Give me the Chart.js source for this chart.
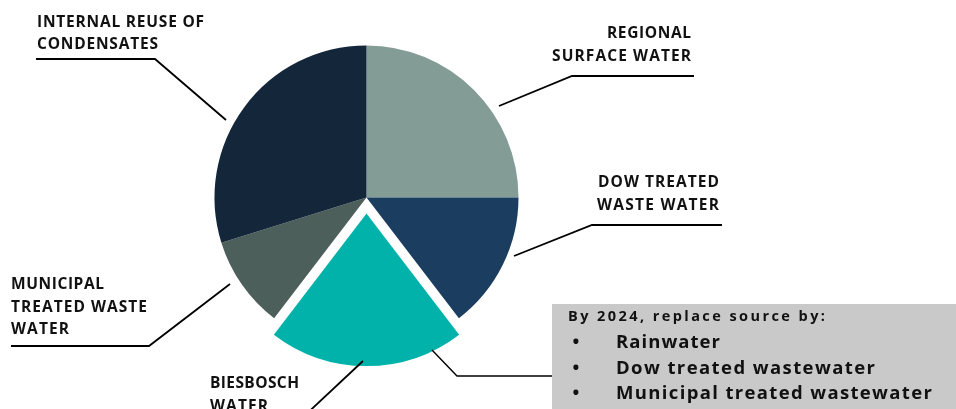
<!DOCTYPE html>
<html>
<head>
<meta charset="utf-8">
<script src="https://cdn.jsdelivr.net/npm/chart.js@4.4.1/dist/chart.umd.min.js"></script>
<style>
  html, body { margin: 0; padding: 0; background: #fff; }
  #wrap { width: 956px; height: 409px; position: relative; }
</style>
</head>
<body>
<div id="wrap"><canvas id="chart" width="956" height="409"></canvas></div>
<script>
/* ------------------------------------------------------
   Water sources pie – one slice pulled out (Biesbosch)
------------------------------------------------------ */

// data
const categories = [
  'REGIONAL SURFACE WATER',
  'DOW TREATED WASTE WATER',
  'BIESBOSCH WATER',
  'MUNICIPAL TREATED WASTE WATER',
  'INTERNAL REUSE OF CONDENSATES'
];
const shares = [25, 14.6, 20.8, 9.8, 29.8];
const sliceColors = ['#849c96', '#1b3d5f', '#00b2aa', '#4d5f5b', '#13263a'];
// chart.js v4 moves an arc by offset / 4 px
const sliceOffsets = [0, 0, 64, 0, 0];

const labelLines = [
  ['REGIONAL', 'SURFACE WATER'],
  ['DOW TREATED', 'WASTE WATER'],
  ['BIESBOSCH', 'WATER'],
  ['MUNICIPAL', 'TREATED WASTE', 'WATER'],
  ['INTERNAL REUSE OF', 'CONDENSATES']
];

const boxTitle = 'By 2024, replace source by:';
const boxItems = ['Rainwater', 'Dow treated wastewater', 'Municipal treated wastewater'];

// layout of the annotations (text anchor, widths, leader lines)
const labelLayout = [
  { x: 691, y: [34, 57], w: [84, 139], align: 'right',
    line: [[694, 76], [572, 76], [499, 106]] },
  { x: 719, y: [183, 206], w: [121, 122], align: 'right',
    line: [[722, 225], [592, 225], [514, 256]] },
  { x: 210, y: [384, 407], w: [89, 58], align: 'left',
    line: [[363, 361], [300, 420]] },
  { x: 11, y: [285, 308, 330], w: [93, 136, 58], align: 'left',
    line: [[11, 346], [149, 346], [230, 284]] },
  { x: 37, y: [23, 45], w: [167, 121], align: 'left',
    line: [[36, 59], [155, 59], [226, 120]] }
];

const boxLayout = { x: 552, y: 304, w: 404, h: 110,
  titleY: 317, titleX: 568, titleW: 257,
  bulletX: 576, itemX: 616, itemY: [343, 369, 394], itemW: [104, 259, 316],
  line: [[432, 350], [457, 376], [552, 376]] };

const FONT = '"Open Sans", "DejaVu Sans", sans-serif';

// draw text stretched to a given width with letterSpacing
function fitText(ctx, text, x, y, width, align, size) {
  ctx.font = `700 ${size}px ${FONT}`;
  ctx.letterSpacing = '0px';
  const natural = ctx.measureText(text).width;
  const gap = text.length > 1 ? (width - natural) / (text.length - 1) : 0;
  ctx.letterSpacing = gap.toFixed(2) + 'px';
  ctx.textAlign = 'left';
  ctx.textBaseline = 'middle';
  const left = align === 'right' ? x - width : x;
  ctx.fillText(text, left, y);
  ctx.letterSpacing = '0px';
}

function polyline(ctx, pts, width) {
  ctx.beginPath();
  ctx.moveTo(pts[0][0], pts[0][1]);
  pts.slice(1).forEach(p => ctx.lineTo(p[0], p[1]));
  ctx.lineWidth = width;
  ctx.strokeStyle = '#000';
  ctx.stroke();
}

const annotations = {
  id: 'annotations',
  afterDraw(chart) {
    const ctx = chart.ctx;
    ctx.save();
    ctx.fillStyle = '#111';

    labelLines.forEach((lines, i) => {
      const L = labelLayout[i];
      lines.forEach((t, j) => fitText(ctx, t, L.x, L.y[j], L.w[j], L.align, 15.5));
      polyline(ctx, L.line, 1.8);
    });

    // note box
    const B = boxLayout;
    ctx.fillStyle = '#c9c9c9';
    ctx.fillRect(B.x, B.y, B.w, B.h);
    polyline(ctx, B.line, 1.4);
    ctx.fillStyle = '#111';
    fitText(ctx, boxTitle, B.titleX, B.titleY, B.titleW, 'left', 14.5);
    boxItems.forEach((t, i) => {
      ctx.font = `700 18px ${FONT}`;
      ctx.textAlign = 'center';
      ctx.textBaseline = 'middle';
      ctx.fillText('\u2022', B.bulletX, B.itemY[i]);
      fitText(ctx, t, B.itemX, B.itemY[i], B.itemW[i], 'left', 18.5);
    });

    ctx.restore();
  }
};

new Chart(document.getElementById('chart'), {
  type: 'pie',
  data: {
    labels: categories,
    datasets: [{
      data: shares,
      backgroundColor: sliceColors,
      offset: sliceOffsets,
      borderWidth: 0,
      radius: 152
    }]
  },
  options: {
    responsive: false,
    animation: false,
    layout: { padding: { left: 0, right: 223, top: 0, bottom: 14 } },
    plugins: {
      legend: { display: false },
      tooltip: { enabled: false }
    }
  },
  plugins: [annotations]
});
</script>
</body>
</html>
